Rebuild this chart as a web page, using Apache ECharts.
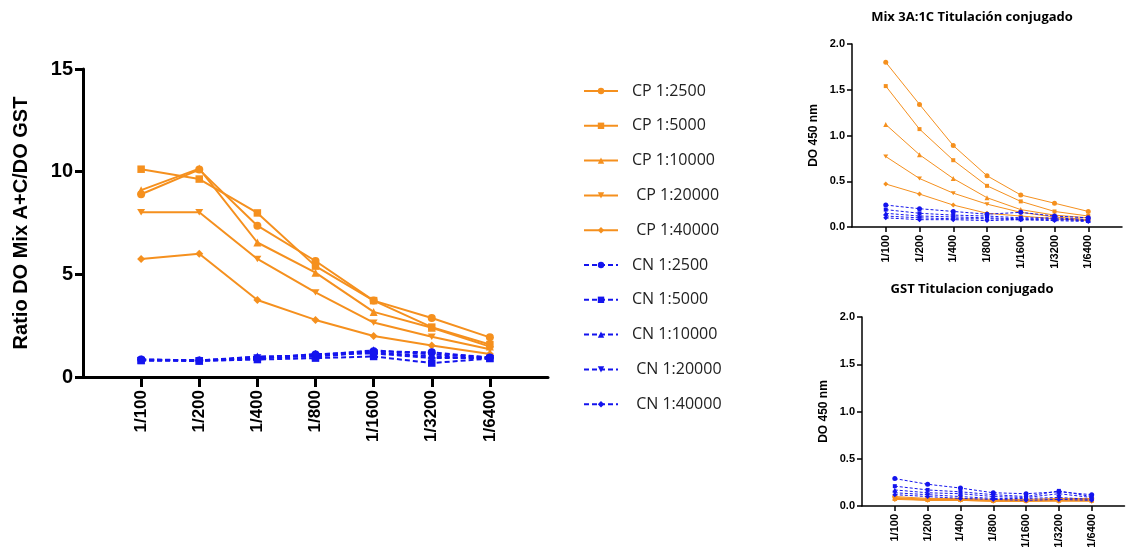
<!DOCTYPE html>
<html>
<head>
<meta charset="utf-8">
<script src="https://cdn.jsdelivr.net/npm/echarts@6/dist/echarts.min.js"></script>
<style>html,body{margin:0;padding:0;background:#fff;}#c{width:1130px;height:554px;}</style>
</head>
<body>
<div id="c"></div>
<script>
// ---- data ----
var dilutions = ['1/100', '1/200', '1/400', '1/800', '1/1600', '1/3200', '1/6400'];
var seriesNames = ['CP 1:2500', 'CP 1:5000', 'CP 1:10000', 'CP 1:20000', 'CP 1:40000',
                   'CN 1:2500', 'CN 1:5000', 'CN 1:10000', 'CN 1:20000', 'CN 1:40000'];
var yTicksRatio = [0, 5, 10, 15];
var yTicksDO = [0, 0.5, 1.0, 1.5, 2.0];

// Main chart: Ratio DO Mix A+C / DO GST
var ratioCP2500  = [8.9, 10.1, 7.37, 5.65, 3.72, 2.87, 1.93];
var ratioCP5000  = [10.12, 9.64, 7.99, 5.4, 3.72, 2.43, 1.58];
var ratioCP10000 = [9.1, 10.15, 6.55, 5.08, 3.17, 2.4, 1.48];
var ratioCP20000 = [8.02, 8.02, 5.75, 4.12, 2.65, 1.96, 1.35];
var ratioCP40000 = [5.75, 6.0, 3.75, 2.78, 2.0, 1.53, 1.12];
var ratioCN2500  = [0.85, 0.8, 0.9, 1.1, 1.25, 1.2, 0.95];
var ratioCN5000  = [0.8, 0.78, 0.85, 0.92, 1.0, 0.68, 0.9];
var ratioCN10000 = [0.85, 0.8, 1.0, 1.05, 1.3, 1.1, 0.95];
var ratioCN20000 = [0.82, 0.8, 0.95, 1.0, 1.2, 1.0, 0.9];
var ratioCN40000 = [0.85, 0.82, 0.9, 1.12, 1.15, 0.92, 0.92];

// Top right: Mix 3A:1C Titulación conjugado
var mixCP2500  = [1.8, 1.34, 0.89, 0.56, 0.35, 0.26, 0.17];
var mixCP5000  = [1.54, 1.07, 0.73, 0.45, 0.28, 0.17, 0.12];
var mixCP10000 = [1.12, 0.79, 0.53, 0.32, 0.19, 0.13, 0.1];
var mixCP20000 = [0.77, 0.53, 0.37, 0.25, 0.16, 0.11, 0.08];
var mixCP40000 = [0.47, 0.36, 0.24, 0.15, 0.12, 0.09, 0.07];
var mixCN2500  = [0.24, 0.2, 0.17, 0.14, 0.16, 0.12, 0.1];
var mixCN5000  = [0.19, 0.15, 0.13, 0.12, 0.1, 0.1, 0.08];
var mixCN10000 = [0.15, 0.12, 0.11, 0.1, 0.09, 0.09, 0.07];
var mixCN20000 = [0.12, 0.1, 0.09, 0.09, 0.08, 0.08, 0.07];
var mixCN40000 = [0.1, 0.08, 0.08, 0.07, 0.08, 0.07, 0.06];

// Bottom right: GST Titulacion conjugado
var gstCP2500  = [0.1, 0.08, 0.08, 0.07, 0.07, 0.08, 0.08];
var gstCP5000  = [0.09, 0.07, 0.07, 0.06, 0.06, 0.07, 0.07];
var gstCP10000 = [0.08, 0.07, 0.07, 0.06, 0.06, 0.06, 0.06];
var gstCP20000 = [0.08, 0.06, 0.06, 0.05, 0.05, 0.06, 0.06];
var gstCP40000 = [0.07, 0.06, 0.06, 0.05, 0.05, 0.05, 0.05];
var gstCN2500  = [0.29, 0.23, 0.19, 0.14, 0.13, 0.15, 0.12];
var gstCN5000  = [0.21, 0.17, 0.15, 0.12, 0.1, 0.16, 0.1];
var gstCN10000 = [0.17, 0.14, 0.13, 0.1, 0.09, 0.13, 0.09];
var gstCN20000 = [0.14, 0.12, 0.1, 0.08, 0.08, 0.09, 0.07];
var gstCN40000 = [0.12, 0.1, 0.08, 0.07, 0.06, 0.07, 0.06];

// ---- build ----
var ORANGE = '#F5901E', BLUE = '#1414EE';
var TRI_DOWN = 'path://M0,0 L10,0 L5,9 Z';
var symbols = ['circle', 'rect', 'triangle', TRI_DOWN, 'diamond'];
var padCats = [' '].concat(dilutions).concat(['  ']);
function pairs(vals) { return vals.map(function (v, i) { return [dilutions[i], v]; }); }

var ratioSets = [ratioCP2500, ratioCP5000, ratioCP10000, ratioCP20000, ratioCP40000,
                 ratioCN2500, ratioCN5000, ratioCN10000, ratioCN20000, ratioCN40000];
var mixSets = [mixCP2500, mixCP5000, mixCP10000, mixCP20000, mixCP40000,
               mixCN2500, mixCN5000, mixCN10000, mixCN20000, mixCN40000];
var gstSets = [gstCP2500, gstCP5000, gstCP10000, gstCP20000, gstCP40000,
               gstCN2500, gstCN5000, gstCN10000, gstCN20000, gstCN40000];

function makeSeries(sets, axisIdx, big) {
  return sets.map(function (vals, i) {
    var cn = i >= 5;
    var color = cn ? BLUE : ORANGE;
    var sym = symbols[i % 5];
    var size = big ? (sym === 'rect' ? 7.5 : 8) : (sym === 'rect' ? 4 : 5);
    return {
      name: seriesNames[i],
      type: 'line',
      xAxisIndex: axisIdx, yAxisIndex: axisIdx,
      data: pairs(vals),
      symbol: sym,
      symbolSize: sym === TRI_DOWN ? [size, size * 0.8] : size,
      showSymbol: true,
      z: cn ? 3 : 2,
      itemStyle: { color: color },
      lineStyle: { color: color, width: big ? 2 : 1, type: cn ? [big ? 5 : 3, big ? 3 : 2] : 'solid' },
      emphasis: { disabled: true },
      animation: false
    };
  });
}

function xAxisCfg(gridIdx, fontSize, lineW, tickLen) {
  return {
    type: 'category', gridIndex: gridIdx, data: padCats, boundaryGap: false,
    axisLine: { lineStyle: { color: '#000', width: lineW } },
    axisTick: { length: tickLen, lineStyle: { color: '#000', width: lineW },
      interval: function (idx, val) { return String(val).trim() !== ''; } },
    axisLabel: { rotate: 90, interval: 0, fontFamily: 'Liberation Sans', fontWeight: 'bold',
      fontSize: fontSize, color: '#000', margin: tickLen + 3 },
    splitLine: { show: false }
  };
}
function yAxisCfg(gridIdx, ticks, fontSize, lineW, tickLen, name, nameSize, nameGap, fmt) {
  return {
    type: 'value', gridIndex: gridIdx, min: ticks[0], max: ticks[ticks.length - 1],
    interval: ticks[1] - ticks[0],
    axisLine: { show: true, lineStyle: { color: '#000', width: lineW } },
    axisTick: { show: true, length: tickLen, lineStyle: { color: '#000', width: lineW } },
    axisLabel: { fontFamily: 'Liberation Sans', fontWeight: 'bold', fontSize: fontSize, color: '#000',
      margin: tickLen + 2, formatter: fmt },
    splitLine: { show: false },
    name: name, nameLocation: 'middle', nameRotate: 90, nameGap: nameGap,
    nameTextStyle: { fontFamily: 'Liberation Sans', fontWeight: 'bold', fontSize: nameSize, color: '#000' }
  };
}

var chart = echarts.init(document.getElementById('c'), null, { renderer: 'canvas' });
var fmt1 = function (v) { return v.toFixed(1); };
var option = {
  backgroundColor: '#fff',
  animation: false,
  title: [
    { text: 'Mix 3A:1C Titulación conjugado', left: 967, top: 6, textAlign: 'center',
      textStyle: { fontFamily: 'Open Sans', fontWeight: 'bold', fontSize: 13, color: '#000' } },
    { text: 'GST Titulacion conjugado', left: 967, top: 278, textAlign: 'center',
      textStyle: { fontFamily: 'Open Sans', fontWeight: 'bold', fontSize: 13, color: '#000' } }
  ],
  legend: {
    data: seriesNames, orient: 'vertical', left: 578, top: 78,
    itemWidth: 34, itemHeight: 8, itemGap: 18.8,
    textStyle: { fontFamily: 'Open Sans', fontSize: 16, color: '#222', padding: [0, 0, 0, 9] },
    formatter: function (n) { return (n.indexOf('20000') > 0 || n.indexOf('40000') > 0) ? ' ' + n : n; },
    selectedMode: false
  },
  grid: [
    { left: 83, top: 69, width: 465, height: 308 },
    { left: 852, top: 44, width: 270, height: 183 },
    { left: 862, top: 317, width: 282, height: 189 }
  ],
  xAxis: [xAxisCfg(0, 17, 3, 10), xAxisCfg(1, 11, 1.5, 5), xAxisCfg(2, 11, 1.5, 5)],
  yAxis: [
    yAxisCfg(0, yTicksRatio, 20, 3, 8, 'Ratio DO Mix A+C/DO GST', 20, 52),
    yAxisCfg(1, yTicksDO, 11, 1.5, 5, 'DO 450 nm', 12, 32, fmt1),
    yAxisCfg(2, yTicksDO, 11, 1.5, 5, 'DO 450 nm', 12, 32, fmt1)
  ],
  series: makeSeries(ratioSets, 0, true).concat(makeSeries(mixSets, 1, false)).concat(makeSeries(gstSets, 2, false))
};
chart.setOption(option);
</script>
</body>
</html>
